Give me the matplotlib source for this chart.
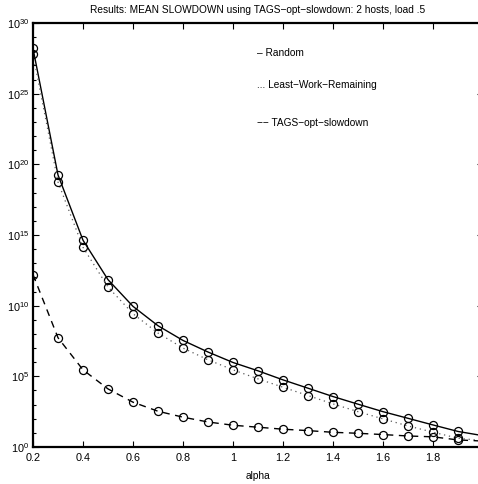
import matplotlib
matplotlib.use("Agg")
import matplotlib.pyplot as plt
import numpy as np
from matplotlib.ticker import FixedLocator, FixedFormatter

plt.rcParams['font.family'] = ['Liberation Sans', 'DejaVu Sans']
plt.rcParams['mathtext.fontset'] = 'custom'
plt.rcParams['mathtext.rm'] = 'Liberation Sans'
plt.rcParams['mathtext.it'] = 'Liberation Sans'
plt.rcParams['mathtext.default'] = 'regular'

alpha = [0.2, 0.3, 0.4, 0.5, 0.6, 0.7, 0.8, 0.9, 1.0, 1.1, 1.2, 1.3, 1.4, 1.5, 1.6, 1.7, 1.8, 1.9, 2.0]
# log10 of mean slowdown
random_log = [28.2, 19.25, 14.63, 11.84, 9.95, 8.58, 7.54, 6.72, 5.98, 5.39, 4.75, 4.16, 3.57, 3.03, 2.5, 2.03, 1.56, 1.1, 0.8]
lwr_log = [27.8, 18.75, 14.13, 11.32, 9.43, 8.06, 7.0, 6.17, 5.46, 4.82, 4.23, 3.64, 3.05, 2.5, 1.99, 1.49, 1.05, 0.62, 0.45]
tags_log = [12.2, 7.73, 5.46, 4.11, 3.17, 2.53, 2.11, 1.77, 1.54, 1.40, 1.26, 1.16, 1.04, 0.97, 0.88, 0.78, 0.72, 0.5, 0.42]

random_v = [10 ** v for v in random_log]
lwr_v = [10 ** v for v in lwr_log]
tags_v = [10 ** v for v in tags_log]

xticks = [0.2, 0.4, 0.6, 0.8, 1.0, 1.2, 1.4, 1.6, 1.8]
xticklabels = ['0.2', '0.4', '0.6', '0.8', '1', '1.2', '1.4', '1.6', '1.8']
yexp = [0, 5, 10, 15, 20, 25, 30]

FS = 7.3
fig = plt.figure(figsize=(4.78, 4.84), dpi=100)
W, H = 478, 484
ax = fig.add_axes([33 / W, (H - 447) / H, (483 - 33) / W, (447 - 23) / H])

mk = dict(marker='o', markersize=5.8, markerfacecolor='none', markeredgecolor='black', markeredgewidth=0.9)
ax.plot(alpha, random_v, '-', color='black', lw=1.0, **mk)
ax.plot(alpha, lwr_v, linestyle=(0, (1, 3)), color='0.35', lw=0.9, **mk)
ax.plot(alpha, tags_v, '--', color='black', lw=1.0, dashes=(5, 4), **mk)

ax.set_yscale('log')
ax.set_xlim(0.2, 2.0)
ax.set_ylim(1, 1e30)

ax.xaxis.set_major_locator(FixedLocator(xticks))
ax.xaxis.set_major_formatter(FixedFormatter(xticklabels))
ax.yaxis.set_major_locator(FixedLocator([10.0 ** e for e in yexp]))
ax.yaxis.set_major_formatter(FixedFormatter([r'$10^{%d}$' % e for e in yexp]))
ax.yaxis.set_minor_locator(FixedLocator([10.0 ** e for e in range(0, 31) if e % 5 != 0]))
ax.yaxis.set_minor_formatter(FixedFormatter([]))
ax.xaxis.set_minor_locator(FixedLocator([]))

ax.tick_params(axis='both', which='major', direction='in', length=4, width=0.8,
               top=True, right=True, labelsize=FS + 0.5, pad=4)
ax.tick_params(axis='y', which='minor', direction='in', length=2.5, width=0.8, right=True)
ax.tick_params(axis='y', which='major', pad=3, labelsize=FS + 0.5)

for s in ax.spines.values():
    s.set_linewidth(1.6)

ax.set_title('Results: MEAN SLOWDOWN using TAGS\u2212opt\u2212slowdown: 2 hosts, load .5',
             fontsize=FS, pad=7)
ax.set_xlabel('alpha', fontsize=FS, labelpad=6)

ax.text(257 / W, 1 - 53 / H, '\u2013 Random', transform=fig.transFigure, fontsize=FS, va='center', ha='left')
ax.text(257 / W, 1 - 85 / H, '... Least\u2212Work\u2212Remaining', transform=fig.transFigure, fontsize=FS, va='center', ha='left')
ax.text(257 / W, 1 - 123 / H, '\u2212\u2212 TAGS\u2212opt\u2212slowdown', transform=fig.transFigure, fontsize=FS, va='center', ha='left')

fig.savefig('out.png', dpi=100)
